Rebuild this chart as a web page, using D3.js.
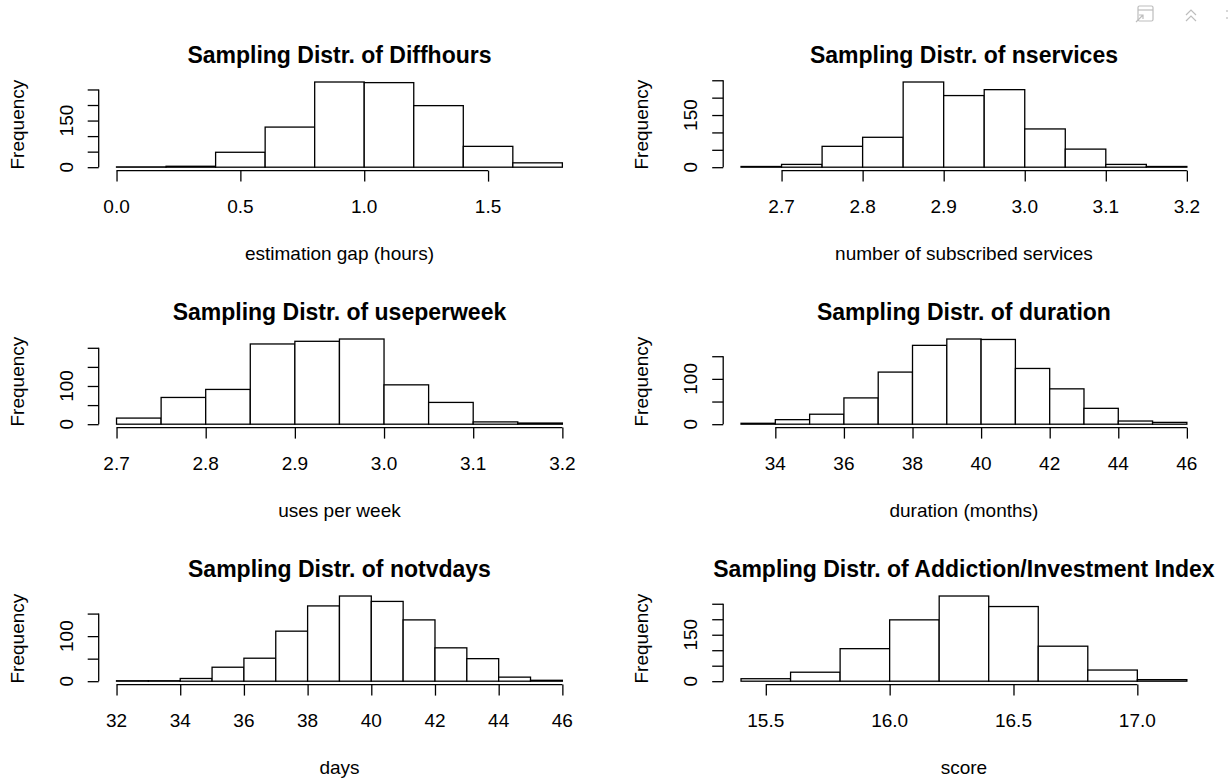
<!DOCTYPE html>
<html>
<head>
<meta charset="utf-8">
<script src="https://cdn.jsdelivr.net/npm/d3@7"></script>
<style>
  body { margin: 0; background: #fff; }
  svg text { font-family: "Liberation Sans", Arial, Helvetica, sans-serif; fill: #000; }
</style>
</head>
<body>
<div id="chart"></div>
<script>
// Sampling distributions: 3x2 grid of base-R style histograms

// --- data (bin breaks + counts) ---
const diffBreaks = [0, 0.2, 0.4, 0.6, 0.8, 1.0, 1.2, 1.4, 1.6, 1.8];
const diffCounts = [1, 3, 48, 129, 274, 272, 198, 67, 14];

const servBreaks = [2.65, 2.70, 2.75, 2.80, 2.85, 2.90, 2.95, 3.00, 3.05, 3.10, 3.15, 3.20];
const servCounts = [2, 8, 60, 86, 245, 206, 223, 110, 52, 8, 2];

const useBreaks = [2.70, 2.75, 2.80, 2.85, 2.90, 2.95, 3.00, 3.05, 3.10, 3.15, 3.20];
const useCounts = [16, 70, 91, 210, 217, 223, 103, 57, 6, 3];

const durBreaks = [33, 34, 35, 36, 37, 38, 39, 40, 41, 42, 43, 44, 45, 46];
const durCounts = [2, 10, 22, 58, 115, 174, 188, 187, 123, 78, 35, 7, 4];

const tvBreaks = [32, 33, 34, 35, 36, 37, 38, 39, 40, 41, 42, 43, 44, 45, 46];
const tvCounts = [1, 1, 6, 31, 51, 111, 167, 189, 177, 136, 74, 50, 9, 2];

const idxBreaks = [15.4, 15.6, 15.8, 16.0, 16.2, 16.4, 16.6, 16.8, 17.0, 17.2];
const idxCounts = [8, 29, 105, 198, 275, 241, 113, 36, 5];

// --- axis ticks ---
const diffXTicks = [0, 0.5, 1.0, 1.5];
const servXTicks = [2.7, 2.8, 2.9, 3.0, 3.1, 3.2];
const useXTicks = [2.7, 2.8, 2.9, 3.0, 3.1, 3.2];
const durXTicks = [34, 36, 38, 40, 42, 44, 46];
const tvXTicks = [32, 34, 36, 38, 40, 42, 44, 46];
const idxXTicks = [15.5, 16.0, 16.5, 17.0];

const yTicks250 = [0, 50, 100, 150, 200, 250];
const yTicks200 = [0, 50, 100, 150, 200];
const yTicks150 = [0, 50, 100, 150];

const titles = [
	'Sampling Distr. of Diffhours', 'Sampling Distr. of nservices',
	'Sampling Distr. of useperweek', 'Sampling Distr. of duration',
	'Sampling Distr. of notvdays', 'Sampling Distr. of Addiction/Investment Index'
];
const xLabels = [
	'estimation gap (hours)', 'number of subscribed services',
	'uses per week', 'duration (months)',
	'days', 'score'
];

const panels = [
	{breaks: diffBreaks, counts: diffCounts, xt: diffXTicks, xfmt: d3.format('.1f'), yt: yTicks250, ylab: [0, 150]},
	{breaks: servBreaks, counts: servCounts, xt: servXTicks, xfmt: d3.format('.1f'), yt: yTicks250, ylab: [0, 150]},
	{breaks: useBreaks, counts: useCounts, xt: useXTicks, xfmt: d3.format('.1f'), yt: yTicks200, ylab: [0, 100]},
	{breaks: durBreaks, counts: durCounts, xt: durXTicks, xfmt: d3.format('d'), yt: yTicks150, ylab: [0, 100]},
	{breaks: tvBreaks, counts: tvCounts, xt: tvXTicks, xfmt: d3.format('d'), yt: yTicks150, ylab: [0, 100]},
	{breaks: idxBreaks, counts: idxCounts, xt: idxXTicks, xfmt: d3.format('.1f'), yt: yTicks250, ylab: [0, 150]}
];

// --- layout ---
const W = 1228, H = 780;
const colLeft = [98.7, 723.2];
const plotW = 481.5;
const plotH = 92;
const rowBottom0 = 170.6, rowStep = 257;
const tickLen = 11;
const lw = 1.3;

const svg = d3.select('#chart').append('svg')
	.attr('width', W)
	.attr('height', H);

panels.forEach((p, i) => {
	const col = i % 2, row = Math.floor(i / 2);
	const left = colLeft[col];
	const bottom = rowBottom0 + row * rowStep;
	const top = bottom - plotH;

	// R style 4% expansion of the ranges
	const xmin = p.breaks[0], xmax = p.breaks[p.breaks.length - 1];
	const xr = xmax - xmin;
	const ymax = d3.max(p.counts);
	const x = d3.scaleLinear().domain([xmin - 0.04 * xr, xmax + 0.04 * xr]).range([left, left + plotW]);
	const y = d3.scaleLinear().domain([-0.04 * ymax, 1.04 * ymax]).range([bottom, top]);

	const g = svg.append('g');

	const bins = p.counts.map((c, j) => ({x0: p.breaks[j], x1: p.breaks[j + 1], n: c}));

	g.selectAll('rect.bar')
		.data(bins)
		.enter()
		.append('rect')
		.attr('class', 'bar')
		.attr('x', d => x(d.x0))
		.attr('y', d => y(d.n))
		.attr('width', d => x(d.x1) - x(d.x0))
		.attr('height', d => y(0) - y(d.n))
		.attr('fill', '#fff')
		.attr('stroke', '#000')
		.attr('stroke-width', lw);

	// x axis: line runs from first to last tick only
	const xAxis = g.append('g').attr('transform', `translate(0,${bottom})`);
	xAxis.call(d3.axisBottom(x).tickValues(p.xt).tickSize(tickLen).tickSizeOuter(0).tickPadding(0).tickFormat(() => ''));
	xAxis.select('.domain').remove();
	xAxis.append('line')
		.attr('x1', x(p.xt[0])).attr('x2', x(p.xt[p.xt.length - 1]))
		.attr('stroke', '#000').attr('stroke-width', lw);
	xAxis.selectAll('.tick line').attr('stroke-width', lw);
	xAxis.selectAll('.xlabel')
		.data(p.xt)
		.enter()
		.append('text')
		.attr('x', d => x(d))
		.attr('y', 42.7)
		.attr('text-anchor', 'middle')
		.style('font-size', '19px')
		.text(d => p.xfmt(d));

	// y axis
	const yAxis = g.append('g').attr('transform', `translate(${left},0)`);
	yAxis.call(d3.axisLeft(y).tickValues(p.yt).tickSize(tickLen).tickSizeOuter(0).tickFormat(() => ''));
	yAxis.select('.domain').remove();
	yAxis.append('line')
		.attr('y1', y(p.yt[0])).attr('y2', y(p.yt[p.yt.length - 1]))
		.attr('stroke', '#000').attr('stroke-width', lw);
	yAxis.selectAll('.tick line').attr('stroke-width', lw);
	yAxis.selectAll('.ylabel')
		.data(p.ylab)
		.enter()
		.append('text')
		.attr('transform', d => `translate(-26,${y(d)}) rotate(-90)`)
		.attr('text-anchor', 'middle')
		.style('font-size', '19px')
		.text(d => d);

	// titles and axis titles
	g.append('text')
		.attr('x', left + plotW / 2)
		.attr('y', bottom - 107.3)
		.attr('text-anchor', 'middle')
		.style('font-size', '23px')
		.style('font-weight', 'bold')
		.text(titles[i]);

	g.append('text')
		.attr('x', left + plotW / 2)
		.attr('y', bottom + 89.4)
		.attr('text-anchor', 'middle')
		.style('font-size', '19px')
		.text(xLabels[i]);

	g.append('text')
		.attr('transform', `translate(${left - 75},${(top + bottom) / 2}) rotate(-90)`)
		.attr('text-anchor', 'middle')
		.style('font-size', '19px')
		.text('Frequency');
});

// pane toolbar glyphs (top right)
const tb = svg.append('g').attr('fill', 'none').attr('stroke', '#bdbdbd').attr('stroke-width', 1.2);
tb.append('rect').attr('x', 1138).attr('y', 6).attr('width', 15).attr('height', 15).attr('rx', 1.5);
tb.append('line').attr('x1', 1138).attr('x2', 1153).attr('y1', 10).attr('y2', 10);
tb.append('path').attr('d', 'M1136,22 L1143,15 M1139,15 L1143,15 L1143,19');
tb.append('path').attr('d', 'M1186,15 L1191,10 L1196,15 M1186,21 L1191,16 L1196,21');
tb.append('path').attr('d', 'M1227,10 L1227,12 M1227,17 L1227,19');
</script>
</body>
</html>
